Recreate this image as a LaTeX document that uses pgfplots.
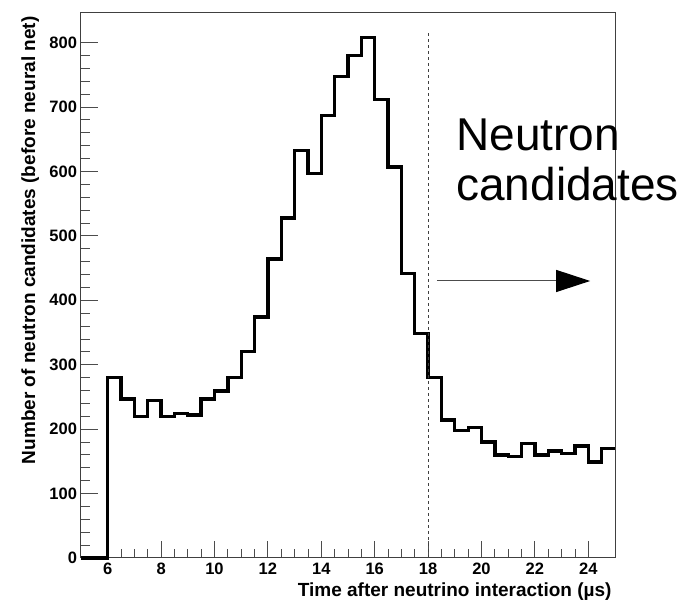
\documentclass[border=0pt]{standalone}
\usepackage{fontspec}
\setmainfont{Liberation Sans}
\usepackage{pgfplots}
\pgfplotsset{compat=1.18}
\usepackage{pgfplotstable}
\usetikzlibrary{arrows.meta}
\pgfplotstableread{
x y
5.0 0
6.0 280
6.5 247
7.0 220
7.5 245
8.0 220
8.5 224
9.0 222
9.5 247
10.0 259
10.5 280
11.0 321
11.5 374
12.0 464
12.5 528
13.0 633
13.5 597
14.0 687
14.5 747
15.0 780
15.5 808
16.0 712
16.5 607
17.0 442
17.5 349
18.0 280
18.5 214
19.0 198
19.5 203
20.0 180
20.5 160
21.0 158
21.5 178
22.0 160
22.5 166
23.0 162
23.5 174
24.0 149
24.5 170
25.0 170
}\histdata
\begin{document}
\begin{tikzpicture}
\useasboundingbox (-81pt,-42pt) rectangle (608pt,558pt);
\begin{axis}[
  scale only axis,
  width=534pt, height=545pt,
  xmin=5, xmax=25, ymin=0, ymax=846,
  xtick={6,8,...,24}, ytick={0,100,...,800},
  minor x tick num=3, minor y tick num=4,
  xtick pos=lower, ytick pos=left,
  tick align=inside,
  major tick length=16.5pt, minor tick length=8.5pt,
  axis line style={line width=1pt, black!75},
  every tick/.style={line width=0.9pt, black!70},
  /pgf/number format/assume math mode=true,
  ticklabel style={font=\bfseries\fontsize{16.5}{16.5}\selectfont},
  xticklabel style={yshift=-1.5pt},
  yticklabel style={xshift=-0.5pt},
  label style={font=\bfseries\fontsize{19}{19}\selectfont},
  xlabel={Time after neutrino interaction (\textmu s)},
  ylabel={Number of neutron candidates (before neural net)},
  xlabel style={at={(axis description cs:1,0)}, anchor=base east, yshift=-39pt},
  ylabel style={at={(axis description cs:-0.086,1)}, anchor=base east},
  clip=false,
]
\addplot[const plot, line width=3.3pt, black] table[x=x,y=y] {\histdata};
\addplot[black!75, line width=0.9pt, dash pattern=on 3pt off 3pt] coordinates {(18,0) (18,816)};
\draw[black!70, line width=1pt, -{Triangle[length=34pt,width=22pt,black]}] (axis cs:18.33,430) -- (axis cs:24.07,430);
\node[anchor=base west, font=\fontsize{46}{46}\selectfont, inner sep=0pt] at (axis cs:19.05,632) {Neutron};
\node[anchor=base west, font=\fontsize{46}{46}\selectfont, inner sep=0pt] at (axis cs:19.05,555) {candidates};
\end{axis}
\end{tikzpicture}
\end{document}
